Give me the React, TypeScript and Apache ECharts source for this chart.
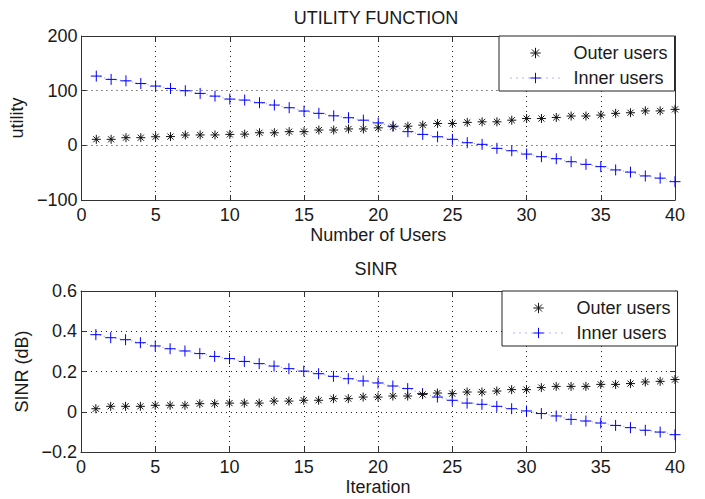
import React, { useEffect, useRef } from "react";
import * as echarts from "echarts";

const users = [1, 2, 3, 4, 5, 6, 7, 8, 9, 10, 11, 12, 13, 14, 15, 16, 17, 18, 19, 20, 21, 22, 23, 24, 25, 26, 27, 28, 29, 30, 31, 32, 33, 34, 35, 36, 37, 38, 39, 40];

const utilityOuter = [11, 11, 14, 14, 15.7, 16, 18.8, 19, 19, 20, 20.5, 23, 23, 25, 25, 28, 28, 30, 30, 32, 34, 35, 37, 40, 40, 42, 43, 43, 46, 49, 49, 51, 53.6, 53.6, 55.4, 58.5, 59.6, 63, 63, 65.8];
const utilityInner = [126.7, 120.6, 118, 113, 108.4, 104, 99.8, 95, 90, 84.6, 82.8, 78, 73.7, 68.8, 62.7, 58.5, 54, 50.5, 46, 41, 35, 25, 20, 15.7, 11, 4.8, 1.8, -5.5, -9.9, -16, -20.8, -24.5, -30, -34.8, -39, -45, -49, -56, -60, -66.5];

const sinrOuter = [0.015, 0.027, 0.027, 0.027, 0.032, 0.032, 0.032, 0.04, 0.04, 0.043, 0.043, 0.043, 0.053, 0.053, 0.057, 0.057, 0.065, 0.065, 0.073, 0.073, 0.078, 0.078, 0.086, 0.093, 0.09, 0.098, 0.098, 0.103, 0.11, 0.11, 0.12, 0.126, 0.126, 0.126, 0.136, 0.136, 0.14, 0.148, 0.151, 0.16];
const sinrInner = [0.383, 0.368, 0.358, 0.343, 0.327, 0.313, 0.302, 0.289, 0.275, 0.264, 0.25, 0.239, 0.227, 0.214, 0.202, 0.189, 0.176, 0.164, 0.153, 0.143, 0.128, 0.115, 0.09, 0.073, 0.057, 0.043, 0.037, 0.027, 0.015, 0.004, -0.009, -0.021, -0.038, -0.046, -0.056, -0.068, -0.079, -0.092, -0.101, -0.114];

const xTicks = { min: 0, max: 40, interval: 5 };
const utilityTicks = { min: -100, max: 200, interval: 100 };
const sinrTicks = { min: -0.2, max: 0.6, interval: 0.2 };

const seriesNames = ["Outer users", "Inner users"];
const titles = ["UTILITY FUNCTION", "SINR"];
const xNames = ["Number of Users", "Iteration"];
const yNames = ["utility", "SINR (dB)"];

const FONT = "'Liberation Sans', Arial, sans-serif";
const FS = 18;
const TXT = "#1a1a1a";
const STAR = "path://M5,0L5,10M0,5L10,5M1.6,1.6L8.4,8.4M1.6,8.4L8.4,1.6";
const PLUS = "path://M5,0L5,10M0,5L10,5";

const fmt = (v: number) => {
  const s = String(Math.round(v * 1000) / 1000);
  return s.replace("-", "\u2212");
};

export default function App() {
  const ref = useRef<HTMLDivElement>(null);
  useEffect(() => {
    document.body.style.margin = "0";
    if (!ref.current) return;
    const chart = echarts.init(ref.current, null, { renderer: "svg" });
    const grids = [
      { left: 81, right: 30, top: 36, height: 164 },
      { left: 81, right: 30, top: 291, height: 161 },
    ];
    const yTicks = [utilityTicks, sinrTicks];
    const xAxis: any[] = [];
    const yAxis: any[] = [];
    const lineCol = "#333";
    grids.forEach((_, g) => {
      xAxis.push({
        type: "value", gridIndex: g, ...xTicks, position: "bottom",
        name: xNames[g], nameLocation: "middle", nameGap: 26,
        nameTextStyle: { fontFamily: FONT, fontSize: FS, color: TXT },
        axisLine: { show: true, onZero: false, lineStyle: { color: lineCol, width: 1 } },
        axisTick: { show: true, inside: true, length: 5, lineStyle: { color: lineCol } },
        axisLabel: { fontFamily: FONT, fontSize: FS, color: TXT, margin: 6, formatter: fmt },
        splitLine: { show: true, lineStyle: { color: "#222", type: [1, 4], width: 1 } },
      });
      xAxis.push({
        type: "value", gridIndex: g, ...xTicks, position: "top",
        axisLine: { show: true, onZero: false, lineStyle: { color: lineCol, width: 1 } },
        axisTick: { show: true, inside: true, length: 5, lineStyle: { color: lineCol } },
        axisLabel: { show: false }, splitLine: { show: false },
      });
      yAxis.push({
        type: "value", gridIndex: g, ...yTicks[g], position: "left",
        name: yNames[g], nameLocation: "middle", nameGap: 48, nameRotate: 90,
        nameTextStyle: { fontFamily: FONT, fontSize: FS, color: TXT },
        axisLine: { show: true, onZero: false, lineStyle: { color: lineCol, width: 1 } },
        axisTick: { show: true, inside: true, length: 5, lineStyle: { color: lineCol } },
        axisLabel: { fontFamily: FONT, fontSize: FS, color: TXT, margin: 4, formatter: fmt },
        splitLine: { show: true, lineStyle: { color: "#222", type: [1, 4], width: 1 } },
      });
      yAxis.push({
        type: "value", gridIndex: g, ...yTicks[g], position: "right",
        axisLine: { show: true, onZero: false, lineStyle: { color: lineCol, width: 1 } },
        axisTick: { show: true, inside: true, length: 5, lineStyle: { color: lineCol } },
        axisLabel: { show: false }, splitLine: { show: false },
      });
    });
    const outerData = [utilityOuter, sinrOuter];
    const innerData = [utilityInner, sinrInner];
    const series: any[] = [];
    grids.forEach((_, g) => {
      series.push({
        type: "line", name: seriesNames[0], xAxisIndex: g * 2, yAxisIndex: g * 2,
        data: users.map((u, i) => [u, outerData[g][i]]),
        symbol: STAR, symbolSize: 9, showSymbol: true,
        lineStyle: { opacity: 0, width: 0 },
        itemStyle: { color: "#111", borderColor: "#111", borderWidth: 1 },
        z: 3,
      });
      series.push({
        type: "line", name: seriesNames[1], xAxisIndex: g * 2, yAxisIndex: g * 2,
        data: users.map((u, i) => [u, innerData[g][i]]),
        symbol: PLUS, symbolSize: 11, showSymbol: true,
        lineStyle: { color: "#0000ff", width: 1, type: [1, 3], opacity: 0.45 },
        itemStyle: { color: "#0000ff", borderColor: "#0000ff", borderWidth: 1 },
        z: 2,
      });
    });
    const legendBase = {
      orient: "vertical",
      data: [
        {
          name: seriesNames[0],
          itemStyle: { color: "#111", borderColor: "#111", borderWidth: 1 },
          lineStyle: { opacity: 0, width: 0 },
        },
        {
          name: seriesNames[1],
          itemStyle: { color: "#0000ff", borderColor: "#0000ff", borderWidth: 1 },
          lineStyle: { color: "#0000ff", width: 1, type: [1, 5], opacity: 0.6 },
        },
      ],
      backgroundColor: "#fff",
      borderColor: "#222",
      borderWidth: 1,
      borderRadius: 0,
      padding: [8, 7, 4, 11],
      itemGap: 7,
      itemWidth: 50,
      itemHeight: 13,
      textStyle: { fontFamily: FONT, fontSize: FS, color: TXT, padding: [0, 0, 0, 8] },
      selectedMode: false,
      z: 10,
    };
    const titleStyle = { fontFamily: FONT, fontSize: FS, fontWeight: "normal", color: TXT };
    chart.setOption({
      animation: false,
      backgroundColor: "#fff",
      title: [
        { text: titles[0], left: 376, top: 9, textAlign: "center", padding: 0, textStyle: titleStyle },
        { text: titles[1], left: 376, top: 260, textAlign: "center", padding: 0, textStyle: titleStyle },
      ],
      grid: grids,
      xAxis,
      yAxis,
      legend: [
        { ...legendBase, left: 499, top: 36 },
        { ...legendBase, left: 502, top: 291 },
      ],
      series,
    });
    return () => chart.dispose();
  }, []);
  return <div ref={ref} style={{ width: 705, height: 499 }} />;
}
